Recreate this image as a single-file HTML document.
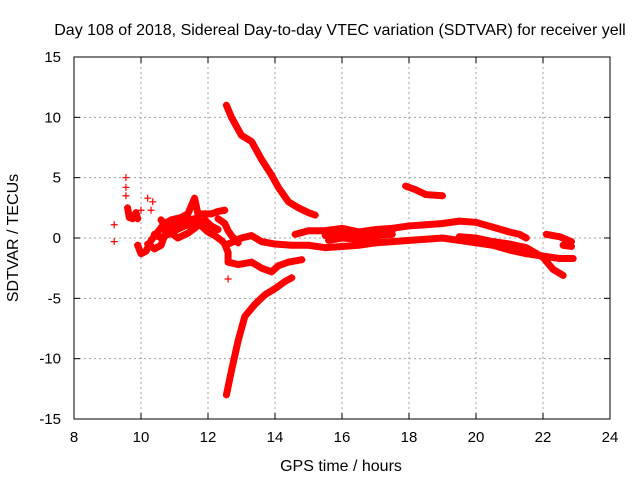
<!DOCTYPE html>
<html><head><meta charset="utf-8"><style>
body{margin:0;background:#fff}
svg{display:block;font-family:"Liberation Sans",sans-serif;font-size:15px}
</style></head><body>
<svg id="chart" width="640" height="480">
<text x="340" y="35" text-anchor="middle" font-size="16">Day 108 of 2018, Sidereal Day-to-day VTEC variation (SDTVAR) for receiver yell</text>
<text x="341" y="471" text-anchor="middle" font-size="16">GPS time / hours</text>
<text transform="translate(18,238) rotate(-90)" text-anchor="middle" font-size="16">SDTVAR / TECUs</text>
<g id="grid"></g><g id="series"></g>
<rect x="74" y="57" width="536" height="362" fill="none" stroke="#000"/>
</svg>
<script>
const xTicks=[8,10,12,14,16,18,20,22,24];
const yTicks=[15,10,5,0,-5,-10,-15];
const trackA=[[12.55,11],[12.7,10],[13,8.5],[13.3,8],[13.6,6.5],[13.9,5.2],[14.1,4.2],[14.4,3],[14.7,2.5],[15,2.1],[15.2,1.9]];
const trackB=[[12.55,-13],[12.7,-11],[12.9,-8.5],[13.1,-6.5],[13.4,-5.5],[13.7,-4.7],[14,-4.2],[14.3,-3.6],[14.5,-3.3]];
const trackC=[[12.6,-2],[12.9,-2.2],[13.3,-2],[13.6,-2.5],[13.9,-2.8],[14.1,-2.3],[14.4,-2],[14.8,-1.8]];
const trackD=[[12.6,-0.5],[13,0],[13.3,0.2],[13.6,-0.3],[14,-0.5],[14.5,-0.6],[15,-0.6],[15.5,-0.8],[16,-0.7],[16.5,-0.6],[17,-0.4],[17.5,-0.3],[18,-0.2],[18.5,-0.1],[19,0],[19.5,-0.2],[20,-0.4],[20.5,-0.6],[21,-1],[21.5,-1.3],[22,-1.5],[22.5,-1.7],[22.9,-1.7]];
const trackE=[[14.6,0.3],[15,0.6],[15.5,0.6],[16,0.8],[16.5,0.5],[17,0.7],[17.5,0.8],[18,1],[18.5,1.1],[19,1.2],[19.5,1.4],[20,1.3],[20.5,0.9],[21,0.5],[21.3,0.3],[21.5,0]];
const trackF=[[15.5,0.2],[16,0.3],[16.5,0],[17,0.1],[17.5,0.6]];
const trackF2=[[19.5,0.1],[20,0],[20.5,-0.3],[21,-0.5],[21.5,-0.8],[22,-1.6],[22.3,-2.6],[22.6,-3.1]];
const trackG=[[17.9,4.3],[18.2,4],[18.5,3.6],[19,3.5]];
const trackH=[[22.1,0.3],[22.5,0.1],[22.85,-0.3]];
const trackH2=[[22.6,-0.6],[22.85,-0.7]];
const trackI=[[9.6,2.5],[9.65,1.7],[9.75,1.6],[9.85,2.1],[9.9,1.6]];
const trackJ=[[9.9,-0.6],[10,-1.3],[10.15,-1.1],[10.3,-0.2],[10.5,0.5],[10.7,1.2],[10.9,1.5],[11.2,1.7],[11.4,2],[11.6,3.3],[11.7,2],[11.9,2],[12.1,2],[12.3,2.2],[12.5,2.3]];
const trackK=[[10.4,0.3],[10.6,0],[10.8,0.3],[11,0.6],[11.3,1],[11.6,1.2],[11.8,1],[12,0.5],[12.2,0.2],[12.4,-0.2],[12.5,-0.5],[12.6,-1.2],[12.6,-2]];
const trackL=[[10.2,-0.5],[10.4,-0.9],[10.6,-0.6],[10.8,0.9],[11,1.1],[11.3,1.4],[11.6,1.6],[11.8,1.4]];
const trackM=[[10.6,1.5],[10.8,0.6],[11.1,0],[11.4,0.4],[11.6,0.8],[11.9,1.5],[12.1,1.0],[12.3,0.7]];
const trackN=[[12.3,1.6],[12.5,1.2],[12.6,0.6],[12.7,0.2],[12.9,-0.4]];
const trackO=[[15.6,-0.2],[16,0],[16.5,-0.1],[17,0.2],[17.5,0.3]];
const isolated=[[9.2,1.1],[9.2,-0.3],[9.55,5],[9.55,4.2],[9.55,3.5],[10,2.3],[10.2,3.3],[10.35,3],[10.3,2.3],[12.6,-3.4]];
const tracks=[trackA,trackB,trackC,trackD,trackE,trackF,trackF2,trackG,trackH,trackH2,trackI,trackJ,trackK,trackL,trackM,trackN,trackO];

const X0=74,X1=610,Y0=419,Y1=57;
const xs=t=>X0+(t-8)/16*(X1-X0);
const ys=v=>Y0-(v+15)/30*(Y0-Y1);
const NS="http://www.w3.org/2000/svg";
const grid=document.getElementById('grid'),ser=document.getElementById('series');
function mk(tag,at,par){const e=document.createElementNS(NS,tag);for(const k in at)e.setAttribute(k,at[k]);par.appendChild(e);return e;}
xTicks.forEach(t=>{
 const x=xs(t);
 if(t>8&&t<24){const g=mk('line',{x1:x,x2:x,y1:Y0,y2:Y1,stroke:'#a0a0a0','stroke-dasharray':'2,3'},grid);
 
 }
 mk('line',{x1:x,x2:x,y1:Y0,y2:Y0-6,stroke:'#000'},grid);
 mk('line',{x1:x,x2:x,y1:Y1,y2:Y1+6,stroke:'#000'},grid);
 const l=mk('text',{x:x,y:442,'text-anchor':'middle'},grid);l.textContent=t;
 
 
});
yTicks.forEach(v=>{
 const y=ys(v);
 if(v>-15&&v<15){const g=mk('line',{x1:X0,x2:X1,y1:y,y2:y,stroke:'#a0a0a0','stroke-dasharray':'2,3'},grid);
 
 }
 mk('line',{x1:X0,x2:X0+6,y1:y,y2:y,stroke:'#000'},grid);
 mk('line',{x1:X1,x2:X1-6,y1:y,y2:y,stroke:'#000'},grid);
 const l=mk('text',{x:61,y:y+5,'text-anchor':'end'},grid);l.textContent=v;
 
 
});
function plus(t,v){
 const x=xs(t),y=ys(v);
 const p=mk('path',{d:`M${x-3.5},${y}h7M${x},${y-3.5}v7`,stroke:'#f00','stroke-width':1.2},ser);
 
 
}
tracks.forEach(tr=>{
 const pl=mk('polyline',{points:tr.map(p=>xs(p[0])+','+ys(p[1])).join(' '),fill:'none',stroke:'#f00','stroke-width':7,'stroke-linejoin':'round','stroke-linecap':'round'},ser);
 
 
 tr.forEach(p=>plus(p[0],p[1]));
});
isolated.forEach(p=>plus(p[0],p[1]));
</script>
</body></html>
